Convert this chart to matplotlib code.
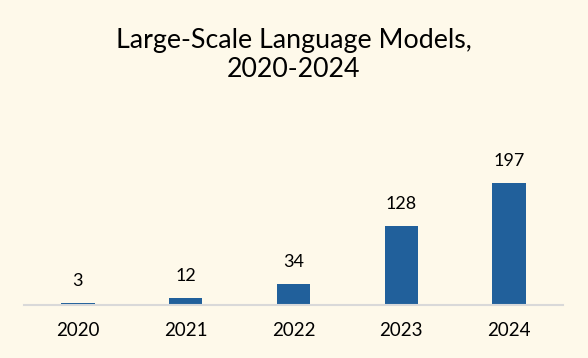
import matplotlib
matplotlib.use("Agg")
import matplotlib.pyplot as plt

years = ["2020", "2021", "2022", "2023", "2024"]
models = [3, 12, 34, 128, 197]

bg = "#fef9ea"
bar_color = "#21609b"

plt.rcParams['font.family'] = ['Lato', 'DejaVu Sans']

fig = plt.figure(figsize=(5.88, 3.58), dpi=100, facecolor=bg)
ax = fig.add_axes([24 / 588, 1 - 305 / 358, 539 / 588, 205 / 358])
ax.set_facecolor(bg)

x = range(len(years))
bars = ax.bar(x, models, width=0.31, color=bar_color, zorder=2)
for i, v in enumerate(models):
    ax.annotate(str(v), (i, v), xytext=(0, 10), textcoords="offset points",
                ha="center", va="bottom", fontsize=13)

ax.set_xlim(-0.5, len(years) - 0.5)
ax.set_ylim(0, 331)
ax.set_xticks(list(x))
ax.set_xticklabels(years, fontsize=13.5)
ax.tick_params(axis="x", length=0, pad=12)
ax.set_yticks([])
for s in ["top", "right", "left"]:
    ax.spines[s].set_visible(False)
ax.spines["bottom"].set_color("#d9d9d9")
ax.spines["bottom"].set_linewidth(1.5)

fig.text(0.5, 1 - 55 / 358, "Large-Scale Language Models,\n2020-2024", ha="center", va="center",
         fontsize=19.3, linespacing=1.2)

fig.savefig("out.png", dpi=100, facecolor=bg)
